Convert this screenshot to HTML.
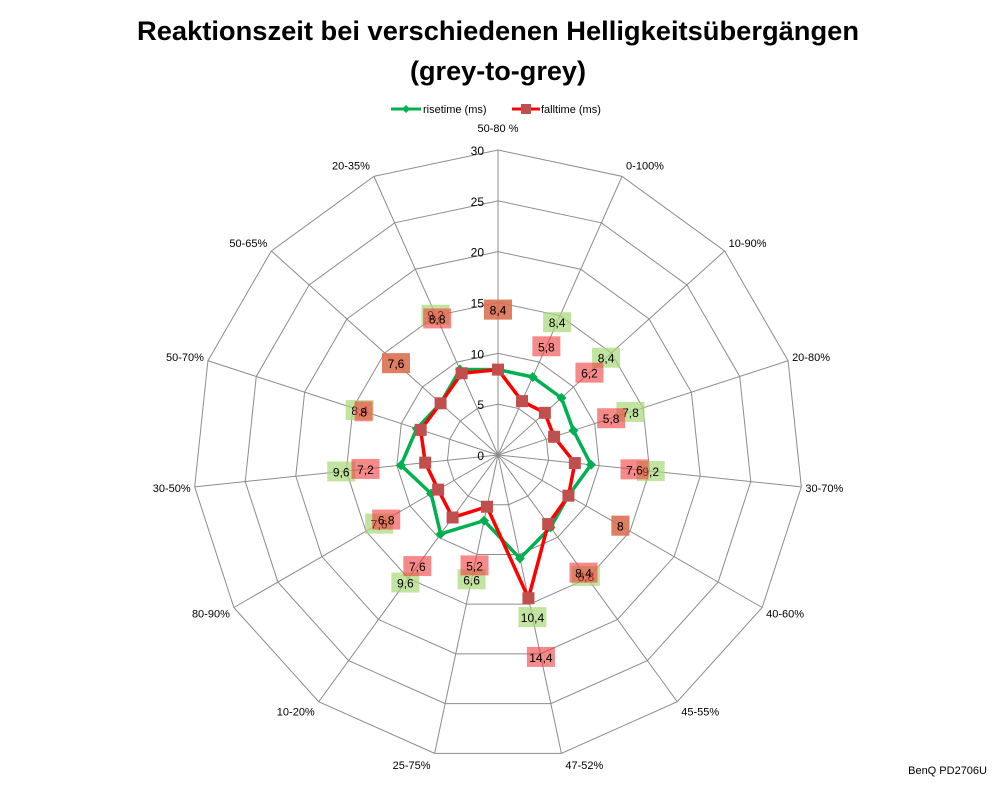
<!DOCTYPE html>
<html><head><meta charset="utf-8"><style>
body{margin:0;background:#fff;}
svg{display:block;font-family:"Liberation Sans",sans-serif;}
</style></head><body>
<svg id="chart" width="998" height="786" viewBox="0 0 998 786">
<text x="498" y="40" text-anchor="middle" font-size="27" font-weight="bold" textLength="722" lengthAdjust="spacingAndGlyphs">Reaktionszeit bei verschiedenen Helligkeitsübergängen</text>
<text x="498" y="80" text-anchor="middle" font-size="27" font-weight="bold" textLength="176" lengthAdjust="spacingAndGlyphs">(grey-to-grey)</text>
<g>
<line x1="391" y1="109" x2="421" y2="109" stroke="#00b050" stroke-width="3"/>
<path d="M406 105 L410 109 L406 113 L402 109Z" fill="#00b050"/>
<text x="423" y="113" font-size="11">risetime (ms)</text>
<line x1="512" y1="109" x2="540" y2="109" stroke="#f00" stroke-width="3"/>
<rect x="521" y="104" width="10" height="10" fill="#c0504d"/>
<text x="541" y="113" font-size="11">falltime (ms)</text>
</g>
<g id="grid"></g>
<g id="series"></g>
<g id="labels"></g>
<text x="987" y="774" text-anchor="end" font-size="11">BenQ PD2706U</text>
</svg>
<script>
const categories=["50-80 %","0-100%","10-90%","20-80%","30-70%","40-60%","45-55%","47-52%","25-75%","10-20%","80-90%","30-50%","50-70%","50-65%","20-35%"];
const risetime=[8.4,8.4,8.4,7.8,9.2,8,8.8,10.4,6.6,9.6,7.6,9.6,8.4,7.6,9.2];
const falltime=[8.4,5.8,6.2,5.8,7.6,8,8.4,14.4,5.2,7.6,6.8,7.2,8,7.6,8.8];
const ticks=[0,5,10,15,20,25,30];
const cx=498,cy=455,R=305,maxV=30;
const NS="http://www.w3.org/2000/svg";
function ang(i){return i*2*Math.PI/categories.length;}
function pt(i,v){const a=ang(i),r=v/maxV*R;return [cx+r*Math.sin(a),cy-r*Math.cos(a)];}
function mk(tag,attrs,parent){const e=document.createElementNS(NS,tag);for(const k in attrs)e.setAttribute(k,attrs[k]);parent.appendChild(e);return e;}
const grid=document.getElementById('grid'),series=document.getElementById('series'),labels=document.getElementById('labels');
ticks.forEach(t=>{if(t===0)return;
 const p=categories.map((c,i)=>pt(i,t).join(',')).join(' ');
 const g=mk('polygon',{points:p,fill:'none',stroke:'#8c8c8c','stroke-width':1},grid);
 
 
});
categories.forEach((c,i)=>{const [x,y]=pt(i,maxV);
 const l=mk('line',{x1:cx,y1:cy,x2:x,y2:y,stroke:'#8c8c8c','stroke-width':1},grid);
 
 
 const a=ang(i),s=Math.sin(a),co=Math.cos(a);
 let anchor,lx,ly;
 if(i===0){anchor='middle';lx=x;ly=y-18;}
 else{anchor=s>0?'start':'end';lx=s>0?x+4:x-4;ly=y+4-12*co;}
 const t=mk('text',{x:lx,y:ly,'text-anchor':anchor,'font-size':11},labels);
 t.textContent=c;
 
 
});
ticks.forEach(t=>{const y=cy-t/maxV*R;
 const e=mk('text',{x:cx-14,y:y+5,'text-anchor':'end','font-size':12},labels);
 e.textContent=t;
 
 
});
function drawSeries(vals,color,marker,name){
 const p=vals.map((v,i)=>pt(i,v).join(',')).join(' ');
 const pl=mk('polygon',{points:p,fill:'none',stroke:color,'stroke-width':3.5,'stroke-linejoin':'round'},series);
 
 
 vals.forEach((v,i)=>{const [x,y]=pt(i,v);let m;
  if(marker==='d')m=mk('path',{d:`M${x} ${y-5}L${x+5} ${y}L${x} ${y+5}L${x-5} ${y}Z`,fill:'#00b050'},series);
  else m=mk('rect',{x:x-6,y:y-6,width:12,height:12,fill:'#c0504d'},series);
  
  
 });
}
drawSeries(risetime,'#00b050','d','risetime');
drawSeries(falltime,'#ff0000','s','falltime');
function drawLabels(vals,fill,name){
 vals.forEach((v,i)=>{const a=ang(i),r=v/maxV*R+60;const x=cx+r*Math.sin(a),y=cy-r*Math.cos(a);
  const txt=String(v).replace('.',',');const w=txt.length>1?28:18;
  const b=mk('rect',{x:x-w/2,y:y-10,width:w,height:20,fill:fill},labels);
  
  
  const t=mk('text',{x:x,y:y+5,'text-anchor':'middle','font-size':12},labels);
  t.textContent=txt;
  
  
 });
}
drawLabels(risetime,'rgba(170,215,120,0.7)','risetime');
drawLabels(falltime,'rgba(240,60,60,0.6)','falltime');
</script>
</body></html>
